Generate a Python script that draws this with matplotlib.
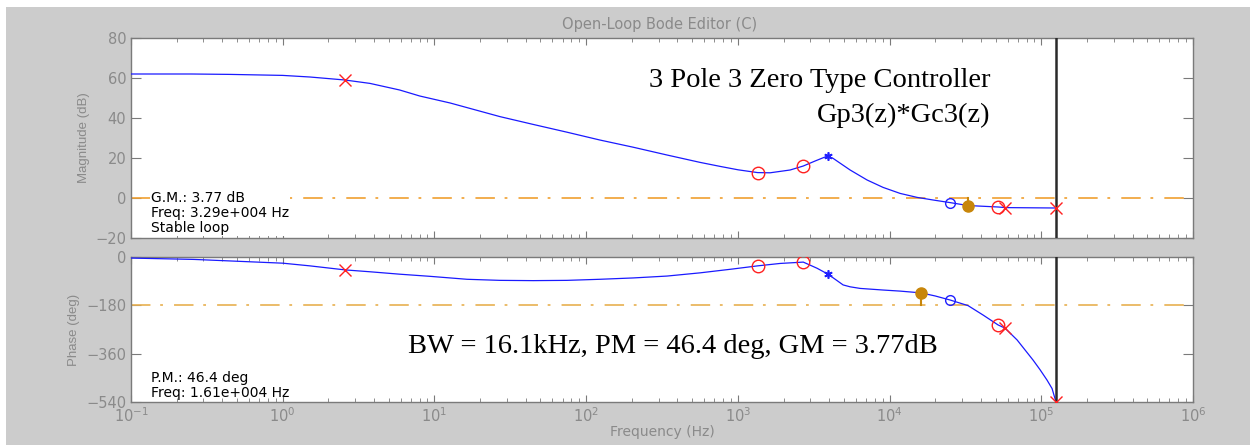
import matplotlib
matplotlib.use("Agg")
import matplotlib.pyplot as plt
from matplotlib.patches import Rectangle
from matplotlib.ticker import NullFormatter, LogLocator

plt.rcParams['lines.scale_dashes'] = False

# ---------------- data ----------------
mag_freq = [0.1, 0.25, 0.45, 1, 1.51, 2.57, 3.76, 5.9, 8.0, 12.7, 27, 44.7, 74.8,
            123, 204, 341, 564, 764, 1003, 1350, 1630, 2210, 2700, 3230, 3900,
            4245, 5495, 7110, 9060, 11730, 15200, 19360, 25050, 32900, 52000,
            58000, 125000]
mag_db = [62, 62, 61.8, 61.3, 60.5, 59, 57.3, 54, 51, 47.5, 40.7, 36.8, 32.9,
          29, 25.4, 21.5, 17.8, 15.8, 14.1, 12.7, 12.6, 14, 16, 18.5, 21,
          19.8, 14, 9, 5.3, 2.3, 0.3, -1, -2.3, -3.77, -4.5,
          -4.8, -5]

ph_freq = [0.1, 0.26, 1, 1.51, 2.57, 3.76, 5.9, 9.35, 16.4, 27, 44.7, 74.8, 123,
           204, 341, 564, 915, 1350, 1900, 2700, 3330, 3930, 4510, 4940, 5495,
           6400, 9060, 11730, 16100, 19950, 25000, 32900, 41300, 51900, 57700,
           69300, 88300, 98200, 109000, 117800, 125000]
ph_deg = [-4, -9, -23, -33, -48, -55, -64, -72, -83, -87, -88, -87, -83,
          -78, -71, -59, -45, -33, -24, -19, -42, -64, -88, -104, -111,
          -117, -123, -127, -133.6, -145, -160, -181, -216, -253, -265,
          -309, -384, -420, -458, -490, -540]

# compensator / plant singularities: (freq, magnitude, phase)
red_x_f = [2.57, 58000, 125000]
red_x_m = [59, -4.8, -5]
red_x_p = [-48, -265, -540]
red_o_f = [1350, 2700, 51900]
red_o_m = [12.7, 16, -4.5]
red_o_p = [-33, -19, -253]
blue_o_f = [25000]
blue_o_m = [-2.3]
blue_o_p = [-160]
blue_s_f = [3900]
blue_s_m = [21]
blue_s_p = [-64]

gm_freq, gm_mag = 32900, -3.77
pm_freq, pm_phase = 16100, -133.6
nyquist = 125000

freq_ticks = [1e-1, 1e0, 1e1, 1e2, 1e3, 1e4, 1e5, 1e6]
mag_ticks = [-20, 0, 20, 40, 60, 80]
ph_ticks = [-540, -360, -180, 0]

# ---------------- figure ----------------
W, H = 1250, 445
fig = plt.figure(figsize=(W / 100, H / 100), dpi=100)
fig.patch.set_facecolor('white')
fig.patches.append(Rectangle((6 / W, 0), 1, 1 - 7 / H, transform=fig.transFigure,
                             facecolor='#cccccc', edgecolor='none', zorder=-10))

left, width = 131 / W, 1062 / W
ax1 = fig.add_axes([left, 1 - 238 / H, width, 200 / H])
ax2 = fig.add_axes([left, 1 - 402 / H, width, 145 / H])

tick_col = '#8a8a8a'
spine_col = '#7a7a7a'
for ax in (ax1, ax2):
    ax.set_xscale('log')
    ax.set_xlim(0.1, 1e6)
    ax.set_xticks(freq_ticks)
    ax.xaxis.set_minor_locator(LogLocator(base=10, subs=range(2, 10)))
    ax.xaxis.set_minor_formatter(NullFormatter())
    ax.set_facecolor('white')
    for s in ax.spines.values():
        s.set_color(spine_col)
        s.set_linewidth(1.0)
    ax.tick_params(which='both', direction='in', top=True, right=True,
                   colors=spine_col, labelcolor=tick_col, labelsize=10.5)
    ax.tick_params(axis='x', which='major', length=5, pad=3)
    ax.tick_params(axis='x', which='minor', length=3)
    ax.tick_params(axis='y', which='major', length=7)
    ax.axvline(nyquist, color='#2a2a2a', lw=1.8, zorder=4)

ax1.tick_params(axis='x', which='both', labelbottom=False)

# magnitude
ax1.set_ylim(-20, 80)
ax1.set_yticks(mag_ticks)
ax1.axhline(0, color='#f0a030', lw=1.2, dashes=[14, 7, 2, 8], zorder=2)
ax1.plot(mag_freq, mag_db, color='#1a1aff', lw=0.9, zorder=3)
ax1.plot([gm_freq, gm_freq], [0, gm_mag], color='#c8860a', lw=1.5, zorder=5)
ax1.plot([gm_freq], [gm_mag], 'o', color='#c8860a', ms=8, zorder=6)
ax1.plot(red_x_f, red_x_m, 'x', color='#ff2020', ms=9, mew=1.0, zorder=6, ls='none')
ax1.plot(red_o_f, red_o_m, 'o', mfc='none', mec='#ff2020', ms=9, mew=1.0, zorder=6, ls='none')
ax1.plot(blue_o_f, blue_o_m, 'o', mfc='none', mec='#2020ff', ms=7, mew=1.0, zorder=6, ls='none')
ax1.plot(blue_s_f, blue_s_m, marker=(6, 2, 0), color='#2020ff', ms=6, mew=1.2, zorder=6, ls='none')
ax1.set_ylabel('Magnitude (dB)', color=tick_col, fontsize=9.5, family='Liberation Sans')
ax1.text(0.0188, 0.125, 'G.M.: 3.77 dB\nFreq: 3.29e+004 Hz\nStable loop',
         transform=ax1.transAxes, ha='left', va='center', fontsize=10,
         linespacing=1.05, color='black',
         bbox=dict(facecolor='white', edgecolor='none', pad=1), zorder=7)

# phase
ax2.set_ylim(-540, 0)
ax2.set_yticks(ph_ticks)
ax2.axhline(-180, color='#e8b050', lw=1.2, dashes=[14, 7, 2, 8], zorder=2)
ax2.plot(ph_freq, ph_deg, color='#1a1aff', lw=0.9, zorder=3)
ax2.plot([pm_freq, pm_freq], [-180, pm_phase], color='#c8860a', lw=1.5, zorder=5)
ax2.plot([pm_freq], [pm_phase], 'o', color='#c8860a', ms=8, zorder=6)
ax2.plot(red_x_f, red_x_p, 'x', color='#ff2020', ms=9, mew=1.0, zorder=6, ls='none')
ax2.plot(red_o_f, red_o_p, 'o', mfc='none', mec='#ff2020', ms=9, mew=1.0, zorder=6, ls='none')
ax2.plot(blue_o_f, blue_o_p, 'o', mfc='none', mec='#2020ff', ms=7, mew=1.0, zorder=6, ls='none')
ax2.plot(blue_s_f, blue_s_p, marker=(6, 2, 0), color='#2020ff', ms=6, mew=1.2, zorder=6, ls='none')
ax2.set_ylabel('Phase (deg)', color=tick_col, fontsize=9.5, family='Liberation Sans')
ax2.set_xlabel('Frequency (Hz)', color=tick_col, fontsize=10, labelpad=0)
ax2.text(0.0188, 0.115, 'P.M.: 46.4 deg\nFreq: 1.61e+004 Hz',
         transform=ax2.transAxes, ha='left', va='center', fontsize=10,
         linespacing=1.05, color='black', zorder=7)

fig.text(660 / W, 1 - 25 / H, 'Open-Loop Bode Editor (C)', ha='center', va='center',
         color='#8a8a8a', fontsize=10.5)

serif = 'Liberation Serif'
fig.text(649 / W, 1 - 87 / H, '3 Pole 3 Zero Type Controller', ha='left',
         va='baseline', fontsize=20.5, family=serif, color='black')
fig.text(817 / W, 1 - 122 / H, 'Gp3(z)*Gc3(z)', ha='left', va='baseline',
         fontsize=20.5, family=serif, color='black')
fig.text(408 / W, 1 - 353 / H, 'BW = 16.1kHz, PM = 46.4 deg, GM = 3.77dB',
         ha='left', va='baseline', fontsize=20.5, family=serif, color='black')

fig.savefig('out.png', dpi=100, facecolor=fig.get_facecolor())
